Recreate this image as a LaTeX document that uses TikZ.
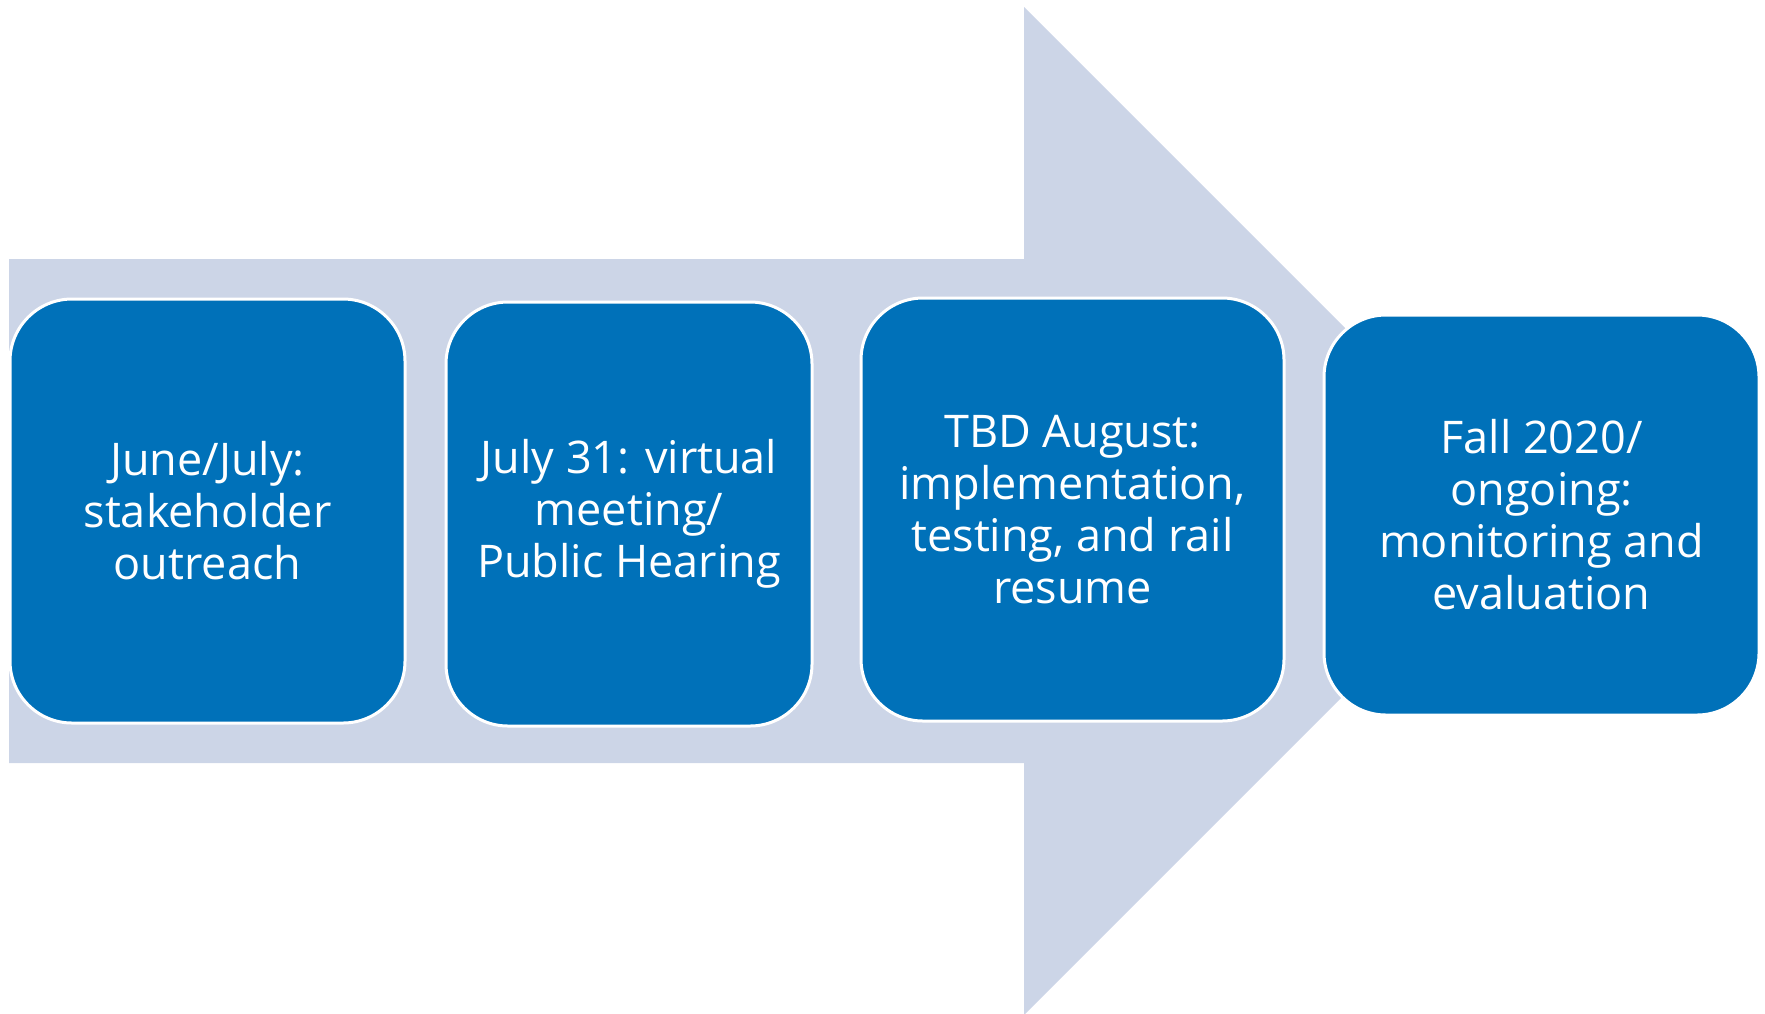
\documentclass[tikz,border=0pt]{standalone}
\usepackage{fontspec}
\setmainfont{Open Sans}
\usepackage{tikz}
\usetikzlibrary{calc}
\definecolor{boxblue}{HTML}{0071B9}
\definecolor{shaft}{HTML}{CCD5E7}
\tikzset{
  band/.style={fill=shaft, draw=none},
  stage/.style={draw=white, fill=boxblue, line width=1.5pt, rounded corners=31pt,
    text=white, align=center, inner sep=0pt, font=\fontsize{22.5}{26}\selectfont},
}

\begin{document}
\begin{tikzpicture}[x=0.5pt,y=-0.5pt]
  \useasboundingbox (0,0) rectangle (1765,1013);
  % big arrow behind the stages
  \coordinate (TL) at (9,259);
  \coordinate (BL) at (9,763);
  \coordinate (NT) at (1024,259);
  \coordinate (NB) at (1024,763);
  \coordinate (HT) at (1024,7);
  \coordinate (HB) at (1024,1015);
  \coordinate (Tip) at (1528,511);
  \fill[band] (TL) -- (NT) -- (HT) -- (Tip) -- (HB) -- (NB) -- (BL) -- cycle;
  % stages
  \node[stage, minimum width=197.5pt, minimum height=212pt] (june) at (207.5,511)
    {June/July:\\stakeholder\\outreach};
  \node[stage, minimum width=183pt, minimum height=212pt] (hearing) at (629,514)
    {July 31: virtual\\meeting/\\Public Hearing};
  \node[stage, minimum width=211.5pt, minimum height=211.5pt] (august) at (1072.5,509.5)
    {TBD August:\\implementation,\\testing, and rail\\resume};
  \node[stage, minimum width=217.5pt, minimum height=200pt] (fall) at (1541.5,515)
    {Fall 2020/\\ongoing:\\monitoring and\\evaluation};
\end{tikzpicture}
\end{document}
